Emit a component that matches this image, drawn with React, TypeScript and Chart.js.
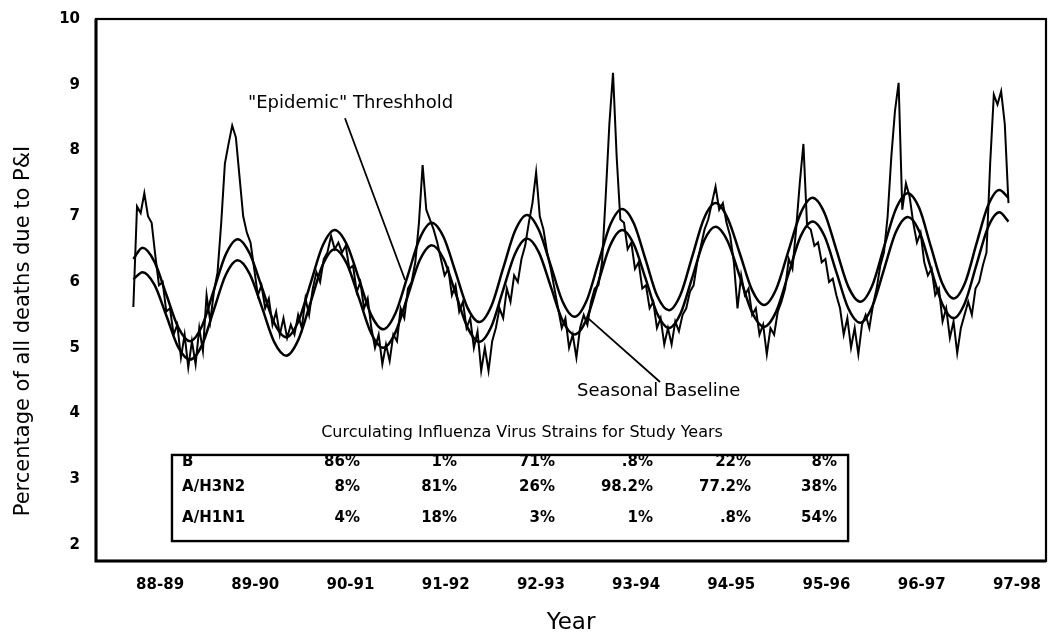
import React, { useEffect, useRef } from 'react';
import { Chart, registerables } from 'chart.js';

Chart.register(...registerables);

// ---- Data ----
const seasonLabels = ['88-89', '89-90', '90-91', '91-92', '92-93', '93-94', '94-95', '95-96', '96-97', '97-98'];
const seasonTickWeeks = [14.6, 66.6, 118.6, 170.6, 222.6, 274.6, 326.6, 378.6, 430.6, 482.6];
const yTicks = [2, 3, 4, 5, 6, 7, 8, 9, 10];

// weekly % of deaths due to P&I, read every 2nd week starting at week 0
const observedStepWeeks = 2;
const observed = [
  5.62, 7.15, 7.05, 7.35, 7.0, 6.9, 6.4, 5.95, 6.0, 5.55,
  5.6, 5.2, 5.35, 4.85, 5.2, 4.7, 5.1, 4.75, 5.3, 4.95,
  5.8, 5.4, 5.85, 6.15, 6.9, 7.8, 8.1, 8.38, 8.2, 7.6,
  7.0, 6.75, 6.6, 6.2, 5.8, 5.95, 5.6, 5.75, 5.35, 5.55,
  5.2, 5.45, 5.15, 5.35, 5.2, 5.5, 5.3, 5.75, 5.5, 5.9,
  6.15, 6.0, 6.35, 6.45, 6.7, 6.5, 6.6, 6.45, 6.55, 6.2,
  6.25, 5.85, 6.0, 5.6, 5.75, 5.3, 5.0, 5.2, 4.75, 5.05,
  4.8, 5.2, 5.1, 5.6, 5.45, 5.9, 6.0, 6.3, 6.9, 7.78,
  7.1, 6.95, 6.8, 6.6, 6.35, 6.1, 6.2, 5.8, 5.95, 5.55,
  5.7, 5.3, 5.45, 5.0, 5.25, 4.65, 5.0, 4.65, 5.1, 5.3,
  5.6, 5.45, 5.9, 5.7, 6.1, 6.0, 6.35, 6.55, 6.9, 7.2,
  7.67, 7.0, 6.8, 6.45, 6.2, 5.9, 5.6, 5.3, 5.45, 5.0,
  5.2, 4.85, 5.3, 5.5, 5.35, 5.7, 5.9, 5.95, 6.3, 7.3,
  8.4, 9.18, 7.9, 6.95, 6.9, 6.5, 6.6, 6.2, 6.3, 5.9,
  5.95, 5.6, 5.7, 5.3, 5.45, 5.05, 5.3, 5.05, 5.4, 5.25,
  5.5, 5.6, 5.85, 5.95, 6.3, 6.55, 6.8, 6.95, 7.2, 7.45,
  7.1, 7.2, 6.9, 6.7, 6.3, 5.6, 6.1, 5.8, 5.9, 5.5,
  5.6, 5.2, 5.35, 4.9, 5.3, 5.2, 5.55, 5.7, 5.9, 6.35,
  6.2, 6.8, 7.5, 8.1, 6.85, 6.8, 6.55, 6.6, 6.3, 6.35,
  6.0, 6.05, 5.8, 5.6, 5.2, 5.45, 5.0, 5.3, 4.9, 5.35,
  5.5, 5.3, 5.65, 5.9, 6.25, 6.45, 7.0, 7.9, 8.6, 9.03,
  7.1, 7.5, 7.3, 6.9, 6.6, 6.75, 6.3, 6.1, 6.2, 5.8,
  5.9, 5.4, 5.6, 5.15, 5.4, 4.92, 5.3, 5.5, 5.7, 5.5,
  5.9, 6.0, 6.25, 6.45, 7.8, 8.85, 8.7, 8.9, 8.4, 7.2,
];

const smoothWeeks = [
  0, 5,
  11.5, 18, 24.5, 31, 37.5, 44, 50.5, 57,
  63.6, 70.3, 76.9, 83.5, 90.1, 96.8, 103.4, 110,
  116.6, 123.3, 129.9, 136.5, 143.1, 149.8, 156.4, 163,
  169.5, 176, 182.5, 189, 195.5, 202, 208.5, 215,
  221.5, 228, 234.5, 241, 247.5, 254, 260.5, 267,
  273.4, 279.8, 286.1, 292.5, 298.9, 305.3, 311.6, 318,
  324.6, 331.3, 337.9, 344.5, 351.1, 357.8, 364.4, 371,
  377.5, 384, 390.5, 397, 403.5, 410, 416.5, 423,
  429.3, 435.5, 441.8, 448, 454.3, 460.5, 466.8, 473,
  478,
];

const baseline = [
  6.04, 6.15,
  5.96, 5.49, 5.01, 4.82, 5.04, 5.58, 6.11, 6.33,
  6.12, 5.61, 5.09, 4.88, 5.12, 5.69, 6.26, 6.50,
  6.28, 5.75, 5.22, 5.00, 5.23, 5.78, 6.33, 6.56,
  6.35, 5.83, 5.31, 5.09, 5.32, 5.88, 6.43, 6.66,
  6.45, 5.93, 5.41, 5.20, 5.43, 6.00, 6.56, 6.79,
  6.57, 6.05, 5.52, 5.30, 5.52, 6.07, 6.62, 6.84,
  6.62, 6.08, 5.54, 5.32, 5.55, 6.12, 6.69, 6.92,
  6.70, 6.15, 5.60, 5.38, 5.62, 6.19, 6.76, 6.99,
  6.77, 6.22, 5.67, 5.45, 5.69, 6.26, 6.83, 7.06,
  6.92,
];

const threshold = [
  6.35, 6.52,
  6.31, 5.81, 5.31, 5.10, 5.33, 5.88, 6.42, 6.65,
  6.43, 5.91, 5.38, 5.16, 5.40, 5.98, 6.55, 6.79,
  6.57, 6.04, 5.50, 5.28, 5.52, 6.09, 6.66, 6.90,
  6.68, 6.15, 5.61, 5.39, 5.63, 6.21, 6.78, 7.02,
  6.79, 6.25, 5.70, 5.47, 5.71, 6.29, 6.87, 7.11,
  6.89, 6.34, 5.79, 5.57, 5.81, 6.39, 6.96, 7.20,
  6.97, 6.43, 5.88, 5.65, 5.89, 6.47, 7.04, 7.28,
  7.05, 6.49, 5.93, 5.70, 5.94, 6.53, 7.11, 7.35,
  7.12, 6.55, 5.98, 5.75, 5.99, 6.58, 7.16, 7.40,
  7.28,
];

const strainTitle = 'Curculating Influenza Virus Strains for Study Years';
const strainNames = ['B', 'A/H3N2', 'A/H1N1'];
const strainB = ['86%', '1%', '71%', '.8%', '22%', '8%'];
const strainH3N2 = ['8%', '81%', '26%', '98.2%', '77.2%', '38%'];
const strainH1N1 = ['4%', '18%', '3%', '1%', '.8%', '54%'];

// ---- Layout (in data units) ----
const FONT = '"DejaVu Sans", sans-serif';
const tableColRightWeeks = [123.8, 176.8, 230.3, 283.8, 337.4, 384.3];
const tableRowValues = [3.26, 2.88, 2.41];
const tableBox = { w0: 21.1, w1: 390.4, v0: 3.37, v1: 2.06 };

const overlayPlugin = {
  id: 'overlay',
  afterDraw(chart: any) {
    const { ctx, chartArea: a, scales } = chart;
    const X = (w: number) => scales.x.getPixelForValue(w);
    const Y = (v: number) => scales.y.getPixelForValue(v);
    ctx.save();
    ctx.strokeStyle = '#000';
    ctx.fillStyle = '#000';

    // plot frame: heavier left/bottom axes, lighter top/right
    ctx.lineWidth = 2.2;
    ctx.strokeRect(a.left, a.top, a.right - a.left, a.bottom - a.top);
    ctx.lineWidth = 3;
    ctx.beginPath();
    ctx.moveTo(a.left, a.top);
    ctx.lineTo(a.left, a.bottom);
    ctx.lineTo(a.right, a.bottom);
    ctx.stroke();

    // y-axis title
    ctx.save();
    ctx.translate(24, 331);
    ctx.rotate(-Math.PI / 2);
    ctx.font = `21px ${FONT}`;
    ctx.textAlign = 'center';
    ctx.textBaseline = 'middle';
    ctx.fillText('Percentage of all deaths due to P&I', 0, 0);
    ctx.restore();

    // annotations
    ctx.font = `18px ${FONT}`;
    ctx.textAlign = 'left';
    ctx.textBaseline = 'middle';
    ctx.fillText('"Epidemic" Threshhold', X(62.6), Y(8.71));
    ctx.fillText('Seasonal Baseline', X(242.3), Y(4.33));
    ctx.lineWidth = 1.8;
    ctx.beginPath();
    ctx.moveTo(X(115.6), Y(8.49));
    ctx.lineTo(X(148.4), Y(6.03));
    ctx.moveTo(X(248.3), Y(5.45));
    ctx.lineTo(X(287.7), Y(4.48));
    ctx.stroke();

    // strain table
    ctx.font = `16px ${FONT}`;
    ctx.textAlign = 'center';
    ctx.fillText(strainTitle, X(212.3), Y(3.70));

    ctx.font = `bold 15px ${FONT}`;
    const rows = [strainB, strainH3N2, strainH1N1];
    rows.forEach((vals, r) => {
      const yy = Y(tableRowValues[r]);
      ctx.textAlign = 'left';
      ctx.fillText(strainNames[r], X(26.6), yy);
      ctx.textAlign = 'right';
      vals.forEach((t, c) => ctx.fillText(t, X(tableColRightWeeks[c]), yy));
    });
    ctx.lineWidth = 2.4;
    const bx0 = X(tableBox.w0), bx1 = X(tableBox.w1), by0 = Y(tableBox.v0), by1 = Y(tableBox.v1);
    ctx.strokeRect(bx0, by0, bx1 - bx0, by1 - by0);

    ctx.restore();
  },
};

export default function App() {
  const ref = useRef<HTMLCanvasElement>(null);

  useEffect(() => {
    if (!ref.current) return;
    const obsData = observed.map((v, i) => ({ x: i * observedStepWeeks, y: v }));
    const baseData = baseline.map((v, i) => ({ x: smoothWeeks[i], y: v }));
    const thrData = threshold.map((v, i) => ({ x: smoothWeeks[i], y: v }));

    const chart = new Chart(ref.current, {
      type: 'line',
      data: {
        datasets: [
          {
            label: 'Observed',
            data: obsData,
            borderColor: '#000',
            borderWidth: 2,
            pointRadius: 0,
            tension: 0,
            fill: false,
          },
          {
            label: '"Epidemic" Threshhold',
            data: thrData,
            borderColor: '#000',
            borderWidth: 2.5,
            pointRadius: 0,
            cubicInterpolationMode: 'monotone',
            fill: false,
          },
          {
            label: 'Seasonal Baseline',
            data: baseData,
            borderColor: '#000',
            borderWidth: 2.5,
            pointRadius: 0,
            cubicInterpolationMode: 'monotone',
            fill: false,
          },
        ],
      },
      options: {
        responsive: false,
        animation: false,
        devicePixelRatio: 1,
        layout: { padding: { top: 19, right: 11, bottom: 0, left: 0 } },
        plugins: { legend: { display: false }, tooltip: { enabled: false } },
        scales: {
          x: {
            type: 'linear',
            min: -20.4,
            max: 498.5,
            grid: { display: false },
            border: { display: false },
            afterFit: (s: any) => { s.height = 74; },
            afterBuildTicks: (s: any) => { s.ticks = seasonTickWeeks.map((v) => ({ value: v })); },
            ticks: {
              autoSkip: false,
              maxRotation: 0,
              minRotation: 0,
              padding: 7,
              color: '#000',
              font: { family: FONT, size: 15, weight: 'bold' },
              callback: (_v: any, i: number) => seasonLabels[i],
            },
            title: {
              display: true,
              text: 'Year',
              color: '#000',
              padding: 0,
              font: { family: FONT, size: 23, lineHeight: 1 },
            },
          },
          y: {
            type: 'linear',
            min: 1.757,
            max: 10,
            grid: { display: false },
            border: { display: false },
            afterFit: (s: any) => { s.width = 96; },
            afterBuildTicks: (s: any) => { s.ticks = yTicks.map((v) => ({ value: v })); },
            ticks: {
              padding: 8,
              color: '#000',
              font: { family: FONT, size: 15, weight: 'bold' },
              callback: (v: any) => String(v),
            },
          },
        },
      },
      plugins: [overlayPlugin],
    } as any);
    return () => chart.destroy();
  }, []);

  return (
    <canvas
      ref={ref}
      width={1057}
      height={635}
      style={{ position: 'fixed', left: 0, top: 0, width: 1057, height: 635, background: '#fff' }}
    />
  );
}
